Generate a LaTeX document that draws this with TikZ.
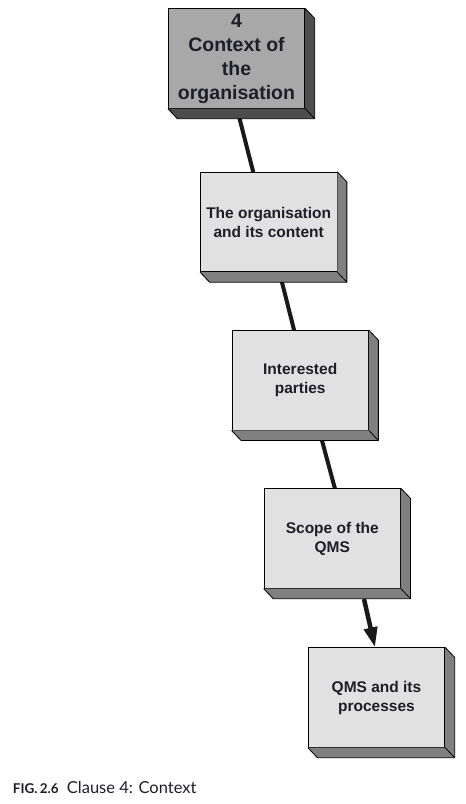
\documentclass[tikz,border=0pt]{standalone}
\usepackage{fontspec}
\setmainfont{Liberation Sans}
\newfontfamily\capfont[Numbers=Lining]{Lato}
\usetikzlibrary{calc,arrows.meta,backgrounds}
\definecolor{topfront}{HTML}{A8A8A8}
\definecolor{topside}{HTML}{4D4D4D}
\definecolor{boxfront}{HTML}{E1E1E1}
\definecolor{boxside}{HTML}{808080}
\definecolor{txt}{HTML}{1E1E28}
\tikzset{
  box/.style={draw=black, line width=0.8pt, fill=boxfront, inner sep=0pt,
    minimum width=136.5pt, minimum height=99.5pt, align=center, text=txt,
    font=\bfseries\fontsize{15.5}{19}\selectfont},
  topbox/.style={box, fill=topfront, font=\bfseries\fontsize{19.5}{24}\selectfont},
  side/.style={draw=black, line width=0.8pt, line join=round},
  link/.style={line width=4pt, color=black!90},
  arrowlink/.style={line width=4.5pt, color=black!90, -{Triangle[length=20pt,width=13pt]}},
  captext/.style={anchor=base west, inner sep=0pt, text=txt}
}
\begin{document}
\begin{tikzpicture}[x=1pt,y=-1pt]
\useasboundingbox (0,0) rectangle (466,804);
\node[topbox] (b1) at (236.5,58.5) {4\\Context of\\the\\organisation};
\node[box] (b2) at (268.7,222) {The organisation\\and its content};
\node[box] (b3) at (300.2,380.3) {Interested\\parties};
\node[box] (b4) at (332.3,538.5) {Scope of the\\QMS};
\node[box] (b5) at (376.5,697.5) {QMS and its\\processes};
\foreach \n/\c in {b1/topside,b2/boxside,b3/boxside,b4/boxside,b5/boxside}{
  \fill[\c] (\n.north east) -- ++(9.5,10) -- ($(\n.south east)+(9.5,10)$) -- ($(\n.south west)+(9.5,10)$) -- (\n.south west) -- (\n.south east) -- cycle;
  \draw[side] (\n.north east) -- ++(9.5,10) -- ($(\n.south east)+(9.5,10)$) -- ($(\n.south west)+(9.5,10)$) -- (\n.south west);
  \draw[side] (\n.south east) -- ++(9.5,10);
}
\begin{scope}[on background layer]
\draw[link] ($(b1.south)+(2.8,9)$) -- ($(b2.north)+(-15.4,0.5)$);
\draw[link] ($(b2.south)+(13,9)$) -- ($(b3.north)+(-6,0.5)$);
\draw[link] ($(b3.south)+(21.5,9)$) -- ($(b4.north)+(2.7,0.5)$);
\end{scope}
\draw[arrowlink] ($(b4.south)+(31.7,10.4)$) -- ($(b5.north)+(-1.5,0)$);
\node[captext, font=\capfont\bfseries\fontsize{13.5}{15}\selectfont] (fig) at (12.7,793) {FIG.\,2.6};
\node[captext, font=\capfont\fontsize{16.5}{18}\selectfont] (cap) at (66.7,793) {Clause 4: Context};
\end{tikzpicture}
\end{document}
